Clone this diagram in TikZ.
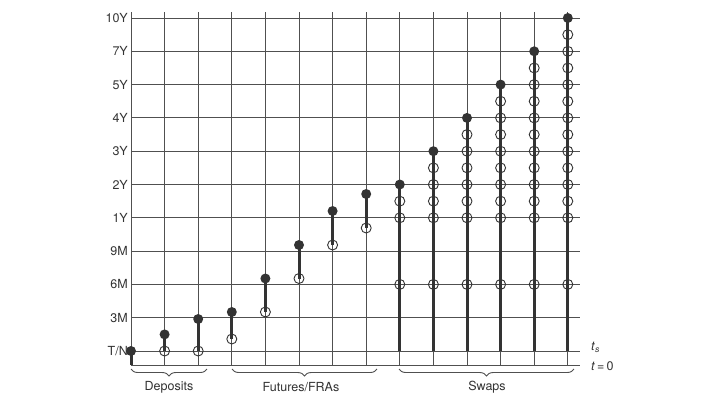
\documentclass[tikz,border=0pt]{standalone}
\usepackage{fontspec}
\setmainfont{TeX Gyre Heros}
\usetikzlibrary{decorations.pathreplacing}
\definecolor{gridc}{HTML}{505050}
\definecolor{dotc}{HTML}{333333}
\definecolor{txtc}{HTML}{333333}
\begin{document}
\begin{tikzpicture}[x=1pt,y=-1pt,
  gridline/.style={draw=gridc,line width=1pt},
  stem/.style={draw=dotc,line width=3pt},
  odot/.style={circle,draw=dotc,line width=0.9pt,inner sep=0pt,minimum size=10pt},
  fdot/.style={circle,fill=dotc,inner sep=0pt,minimum size=10pt},
  ylab/.style={anchor=east,inner sep=0pt,text=txtc,font=\fontsize{12.5}{14}\selectfont},
  tlab/.style={anchor=west,inner sep=0pt,text=txtc,font=\fontsize{12.5}{14}\selectfont},
  blab/.style={inner sep=0pt,text=txtc,font=\fontsize{12.5}{14}\selectfont},
  bracestyle/.style={draw=gridc,line width=0.9pt,decorate,decoration={brace,mirror,amplitude=7pt}}]
\useasboundingbox (0,0) rectangle (720,405);
\fill[white] (0,0) rectangle (720,405);
% grid
\foreach \i in {0,...,13}
  \draw[gridline] ({131+33.6*\i},12) -- ({131+33.6*\i},365);
\foreach \k in {0,...,10}
  \draw[gridline] (131,{18+33.3*\k}) -- (580,{18+33.3*\k});
\draw[gridline] (131,365) -- (580,365);
% y labels
\foreach \k/\t in {0/{10Y},1/{7Y},2/{5Y},3/{4Y},4/{3Y},5/{2Y},6/{1Y},7/{9M},8/{6M},9/{3M},10/{T/N}}
  \node[ylab] (lab\k) at (128,{18+33.3*\k}) {\t};
% right labels
\node[tlab] (ts) at (591,347) {\textit{t}\textsubscript{\textit{s}}};
\node[tlab] (t0) at (591,366) {\textit{t}\,=\,0};
% deposits
\coordinate (d0t) at (131,351);
\coordinate (d0b) at (131,365);
\draw[stem] (d0t) -- (d0b);
\node[fdot] (d0) at (d0t) {};
\coordinate (d1o) at (164.6,351);
\coordinate (d1f) at (164.6,334.4);
\draw[stem] (d1o) -- (d1f);
\node[odot] (d1a) at (d1o) {};
\node[fdot] (d1b) at (d1f) {};
\coordinate (d2o) at (198.2,351);
\coordinate (d2f) at (198.2,319);
\draw[stem] (d2o) -- (d2f);
\node[odot] (d2a) at (d2o) {};
\node[fdot] (d2b) at (d2f) {};
% futures / FRAs
\foreach \c/\yo/\yf in {3/339/312,4/312/278.5,5/278.5/245,6/245/211,7/228/194}{
  \coordinate (fo\c) at ({131+33.6*\c},\yo);
  \coordinate (ff\c) at ({131+33.6*\c},\yf);
  \draw[stem] (fo\c) -- (ff\c);
  \node[odot] (fao\c) at (fo\c) {};
  \node[fdot] (faf\c) at (ff\c) {};
}
% swaps
\foreach \c in {8,...,13}{
  \pgfmathtruncatemacro\k{13-\c}
  \pgfmathtruncatemacro\n{2*\k+1}
  \coordinate (top\c) at ({131+33.6*\c},{18+33.3*\k});
  \coordinate (bot\c) at ({131+33.6*\c},351);
  \draw[stem] (top\c) -- (bot\c);
  \foreach \h in {\n,...,12}
    \node[odot] (o\c-\h) at ({131+33.6*\c},{18+33.3*\h/2}) {};
  \node[odot] (o\c-16) at ({131+33.6*\c},{18+33.3*8}) {};
  \node[fdot] (f\c) at (top\c) {};
}
% braces
\coordinate (b1a) at (131,369); \coordinate (b1b) at (207,369);
\coordinate (b2a) at (232,369); \coordinate (b2b) at (377,369);
\coordinate (b3a) at (399,369); \coordinate (b3b) at (574,369);
\draw[bracestyle] (b1a) -- (b1b);
\draw[bracestyle] (b2a) -- (b2b);
\draw[bracestyle] (b3a) -- (b3b);
\node[blab] (dep) at (169,387) {Deposits};
\node[blab] (fut) at (301,387) {Futures/FRAs};
\node[blab] (swp) at (487,387) {Swaps};
\end{tikzpicture}
\end{document}
